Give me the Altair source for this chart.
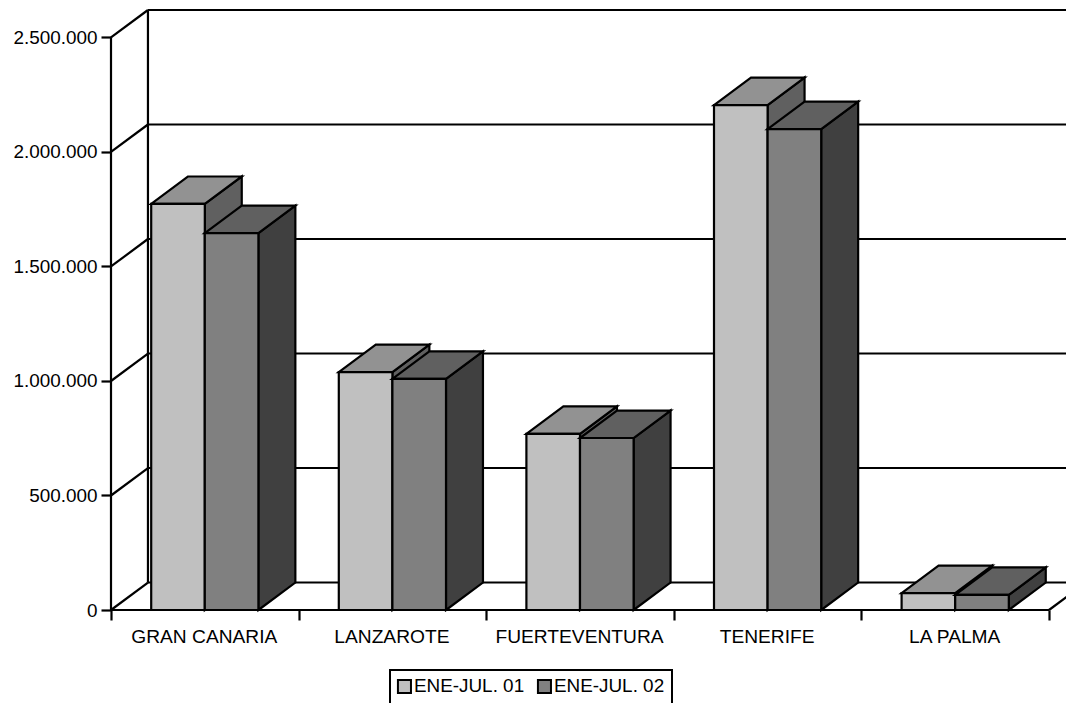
import altair as alt
import pandas as pd

categories = ["GRAN CANARIA", "LANZAROTE", "FUERTEVENTURA", "TENERIFE", "LA PALMA"]
series_names = ["ENE-JUL. 01", "ENE-JUL. 02"]
values_01 = [1773000, 1039000, 769000, 2205000, 74000]
values_02 = [1646000, 1009000, 751000, 2100000, 66000]
y_ticks = [0, 500000, 1000000, 1500000, 2000000, 2500000]

front_colors = ["#c0c0c0", "#808080"]
top_colors = ["#929292", "#606060"]
side_colors = ["#606060", "#404040"]

FONT = "Liberation Sans"
FS = 18.9
LW = 2.2
DX = 0.197       # depth in category units
DY = 120000      # depth in value units
XMAX = 955 / 187.6
YMAX = 2620000
BAR = 2 / 7
GAP = 1.5 / 7

xs = alt.Scale(domain=[0, XMAX], nice=False, zero=False)
ys = alt.Scale(domain=[0, YMAX], nice=False, zero=False)

label_expr = "[" + ",".join(f"'{c}'" for c in categories) + ",''][datum.value]"
x_axis = alt.Axis(
    values=[0, 1, 2, 3, 4, 5], labelExpr=label_expr, labelOffset=92.8,
    domain=False, grid=False, tickSize=10, tickWidth=LW, tickColor="black",
    labelFont=FONT, labelFontSize=19.2, labelColor="black", labelPadding=7,
    labelAngle=0, labelAlign="center", labelOverlap=False, labelFlush=False,
    title=None,
)
y_axis = alt.Axis(
    values=y_ticks,
    labelExpr="replace(format(datum.value, ',d'), /,/g, '.')",
    domain=False, grid=False, tickSize=10, tickWidth=LW, tickColor="black",
    labelFont=FONT, labelFontSize=FS, labelColor="black", labelPadding=4,
    labelOverlap=False, labelFlush=False, title=None,
)


def X(f="x", **k):
    return alt.X(f, type="quantitative", scale=xs, axis=x_axis, **k)


def Y(f="y", **k):
    return alt.Y(f, type="quantitative", scale=ys, axis=y_axis, **k)


# walls, floor and frame
lines = []
for t in y_ticks:
    lines.append(dict(x=0, x2=DX, y=t, y2=t + DY))
    lines.append(dict(x=DX, x2=XMAX, y=t + DY, y2=t + DY))
lines.append(dict(x=DX, x2=DX, y=DY, y2=YMAX))
lines.append(dict(x=0, x2=0, y=0, y2=2500000))
lines.append(dict(x=0, x2=5, y=0, y2=0))
lines.append(dict(x=5, x2=5 + DX, y=0, y2=DY))
lines_df = pd.DataFrame(lines)

wall_layer = (
    alt.Chart(lines_df)
    .mark_rule(color="black", strokeWidth=LW)
    .encode(x=X(), x2="x2:Q", y=Y(), y2="y2:Q")
)

layers = [wall_layer]

color_enc = alt.Color(
    "serie:N",
    scale=alt.Scale(domain=series_names, range=front_colors),
    legend=alt.Legend(
        orient="none", legendX=279, legendY=660, direction="horizontal",
        title="\u00a0" * 45, titleOrient="bottom", titleFontSize=22.2, titlePadding=0,
        titleAnchor="start", titleLimit=400, titleFont=FONT,
        strokeColor="black", padding=7, fillColor="white",
        symbolType="square", symbolSize=170, symbolStrokeColor="black",
        symbolStrokeWidth=2, symbolOpacity=1, symbolOffset=-2,
        labelFont=FONT, labelFontSize=FS, labelColor="black", labelOffset=0,
        columnPadding=8, labelLimit=200,
    ),
)

for si, vals in enumerate([values_01, values_02]):
    x0s = [i + GAP + si * BAR for i in range(len(categories))]
    side_rows, top_rows, front_rows = [], [], []
    for i, (x0, v) in enumerate(zip(x0s, vals)):
        x1 = x0 + BAR
        front_rows.append(dict(x=x0, x2=x1, y=0, y2=v, serie=series_names[si]))
        side_rows.append(dict(k=i, x=x1, y=0, y2=v))
        side_rows.append(dict(k=i, x=x1 + DX, y=DY, y2=v + DY))
        top_rows.append(dict(k=i, y=v, x=x0, x2=x1))
        top_rows.append(dict(k=i, y=v + DY, x=x0 + DX, x2=x1 + DX))
    layers.append(
        alt.Chart(pd.DataFrame(side_rows))
        .mark_area(color=side_colors[si], stroke="black", strokeWidth=LW, strokeJoin="miter", opacity=1)
        .encode(x=X(), y=Y(stack=None), y2="y2:Q", detail="k:N")
    )
    layers.append(
        alt.Chart(pd.DataFrame(top_rows))
        .mark_area(orient="horizontal", color=top_colors[si], stroke="black", strokeWidth=LW, strokeJoin="miter", opacity=1)
        .encode(y=Y(), x=X(stack=None), x2="x2:Q", detail="k:N")
    )
    layers.append(
        alt.Chart(pd.DataFrame(front_rows))
        .mark_rect(stroke="black", strokeWidth=LW, opacity=1)
        .encode(x=X(), x2="x2:Q", y=Y(), y2="y2:Q", color=color_enc)
    )

chart = (
    alt.layer(*layers)
    .properties(
        width=955, height=600,
        background="white",
        autosize=alt.AutoSizeParams(type="none"),
        padding={"left": 103, "top": 2, "right": 0, "bottom": 93},
    )
    .configure_view(stroke=None)
    .configure_legend(strokeWidth=2)
)

chart.save("out.html", embed_options={"renderer": "svg", "actions": False})
